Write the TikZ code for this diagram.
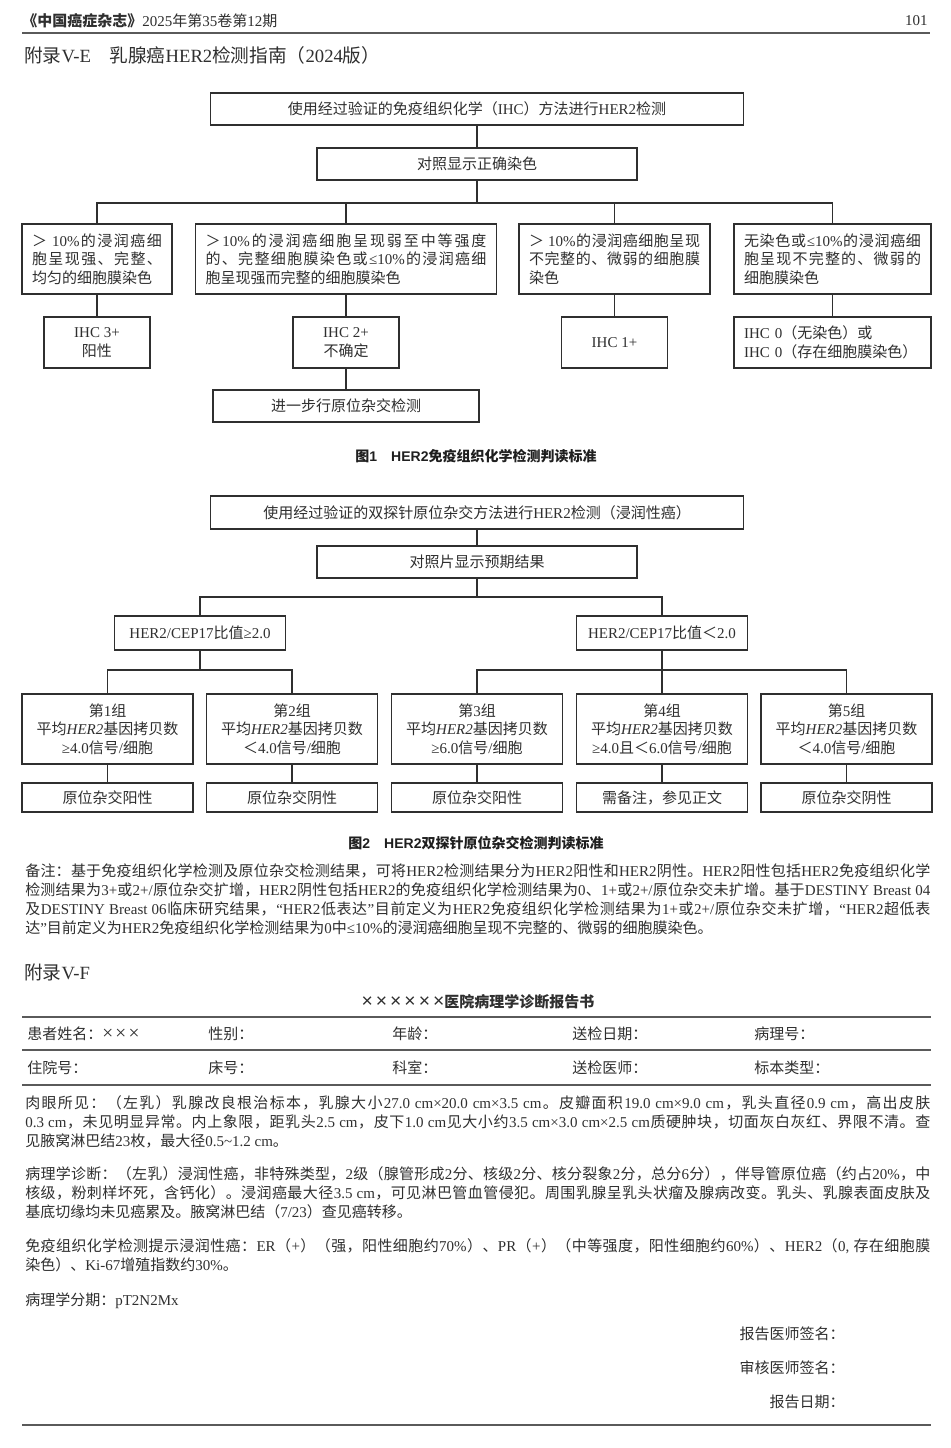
\documentclass[tikz,border=0pt]{standalone}
\usepackage{fontspec}
\setmainfont{Liberation Serif}
\setsansfont{Liberation Sans}
\newfontfamily\cjkfam{Noto Sans CJK SC}
\usetikzlibrary{positioning}
\definecolor{pageink}{HTML}{2F2F2F}
\definecolor{ruleink}{HTML}{5A5A5A}
\newcommand\pxu{0.75pt}
\newcommand\latinfam{\rmfamily}
\newcommand\bodyfont{\fontsize{11.25}{14.25}\selectfont}
\newcommand\boxfont{\fontsize{11.25}{13.9}\selectfont}
\newcommand\capfont{\fontsize{10.5}{12}\selectfont\sffamily\bfseries\def\latinfam{\sffamily}}
\newcommand\bigtimes{{\fontsize{14.5}{14}\selectfont ×}}
\hyphenpenalty=10000 \exhyphenpenalty=10000
% han characters get their own font, and some glue between them
\XeTeXinterchartokenstate=1
\newXeTeXintercharclass\hanclass
\newcount\hancode
\newcommand\hanrange[2]{\hancode=#1\relax
  \loop\XeTeXcharclass\hancode=\hanclass
  \ifnum\hancode<#2\relax\advance\hancode by 1\relax\repeat}
\hanrange{"3000}{"303F}
\hanrange{"4E00}{"9FFF}
\hanrange{"FF00}{"FF5F}
\newcommand\hanglue{\hskip0pt plus .15em minus .04em\relax}
\XeTeXinterchartoks 0 \hanclass = {\cjkfam\hanglue}
\XeTeXinterchartoks 4095 \hanclass = {\cjkfam}
\XeTeXinterchartoks \hanclass 0 = {\latinfam\hanglue}
\XeTeXinterchartoks \hanclass 4095 = {\latinfam}
\XeTeXinterchartoks \hanclass \hanclass = {\hanglue}

\begin{document}
\begin{tikzpicture}[
    x=0.75pt,y=-0.75pt,
    box/.style={draw=pageink,line width=.9pt,inner sep=0pt,text=pageink,font=\boxfont},
    wide/.style={box,minimum width=533*\pxu,minimum height=32*\pxu},
    ctrlbox/.style={box,minimum width=320*\pxu,minimum height=32*\pxu},
    crit/.style={box,minimum height=70*\pxu,align=justify},
    score/.style={box,minimum width=106*\pxu,minimum height=51*\pxu,align=center},
    ratio/.style={box,minimum width=171*\pxu,minimum height=34*\pxu},
    grpbox/.style={box,minimum width=171*\pxu,minimum height=70*\pxu,align=center},
    verdict/.style={box,minimum width=171*\pxu,minimum height=29*\pxu},
    link/.style={draw=pageink,line width=.9pt},
    rule/.style={draw=ruleink,line width=1.7pt},
    txt/.style={inner sep=0pt,text=pageink,font=\bodyfont},
    para/.style={txt,anchor=north west,text width=678.75pt,align=justify},
    figcap/.style={inner sep=0pt,text=black!88,font=\capfont}
  ]
  \fill[white] (0,0) rectangle (950,1448);
  \useasboundingbox (0,0) rectangle (950,1448);

  % running head
  \node[txt,anchor=west] (journal) at (22,21) {{\bfseries 《中国癌症杂志》}2025年第35卷第12期};
  \node[txt,anchor=east] (pageno) at (928,21) {101};
  \draw[rule,line width=1.2pt] (22,33) -- (930,33);
  \node[txt,anchor=west,font=\fontsize{14}{16}\selectfont] (appE) at (24,55) {附录V-E　乳腺癌HER2检测指南（2024版）};

  % figure 1
  \node[wide] (ihc) at (477,109) {使用经过验证的免疫组织化学（IHC）方法进行HER2检测};
  \node[ctrlbox] (ctrl) at (477,164) {对照显示正确染色};
  \node[crit,minimum width=150*\pxu,text width=97.5pt] (strong) at (97,259) {＞ 10\%的浸润癌细\linebreak 胞呈现强、完整、\linebreak 均匀的细胞膜染色};
  \node[crit,minimum width=301*\pxu,text width=210.75pt] (moderate) at (346,259) {＞10\%的浸润癌细胞呈现弱至中等强度\linebreak 的、完整细胞膜染色或≤10\%的浸润癌细\linebreak 胞呈现强而完整的细胞膜染色};
  \node[crit,minimum width=191*\pxu,text width=128.25pt] (weak) at (614.5,259) {＞ 10\%的浸润癌细胞呈现\linebreak 不完整的、微弱的细胞膜\linebreak 染色};
  \node[crit,minimum width=197*\pxu,text width=132.75pt] (faint) at (832.5,259) {无染色或≤10\%的浸润癌细\linebreak 胞呈现不完整的、微弱的\linebreak 细胞膜染色};
  \node[score] (pos3) at (97,342.5) {IHC 3+\\阳性};
  \node[score] (equiv) at (346,342.5) {IHC 2+\\不确定};
  \node[score] (low1) at (614.5,342.5) {IHC 1+};
  \node[box,minimum width=197*\pxu,minimum height=51*\pxu,align=left,text width=132.75pt] (zero) at (832.5,342.5) {IHC 0（无染色）或\\IHC 0（存在细胞膜染色）};
  \node[box,minimum width=266*\pxu,minimum height=32*\pxu] (reflex) at (346,406) {进一步行原位杂交检测};
  \node[figcap] (cap1) at (476,456) {图1　HER2免疫组织化学检测判读标准};

  \coordinate (split1) at (477,203);
  \draw[link] (ihc) -- (ctrl);
  \draw[link] (ctrl) -- (split1);
  \draw[link] (strong.north) |- (split1) -| (faint.north);
  \draw[link] (moderate.north) -- (moderate.north |- split1);
  \draw[link] (weak.north) -- (weak.north |- split1);
  \draw[link] (strong) -- (pos3);
  \draw[link] (moderate) -- (equiv);
  \draw[link] (weak) -- (low1);
  \draw[link] (faint) -- (zero);
  \draw[link] (equiv) -- (reflex);

  % figure 2
  \node[wide,minimum height=33*\pxu] (dual) at (477,512.5) {使用经过验证的双探针原位杂交方法进行HER2检测（浸润性癌）};
  \node[ctrlbox] (ctrl2) at (477,562) {对照片显示预期结果};
  \node[ratio] (high) at (200,633) {HER2/CEP17比值≥2.0};
  \node[ratio] (lowr) at (662,633) {HER2/CEP17比值＜2.0};
  \node[grpbox] (grp1) at (107.5,729) {第1组\\平均\textit{HER2}基因拷贝数\\≥4.0信号/细胞};
  \node[grpbox] (grp2) at (292,729) {第2组\\平均\textit{HER2}基因拷贝数\\＜4.0信号/细胞};
  \node[grpbox] (grp3) at (477,729) {第3组\\平均\textit{HER2}基因拷贝数\\≥6.0信号/细胞};
  \node[grpbox] (grp4) at (662,729) {第4组\\平均\textit{HER2}基因拷贝数\\≥4.0且＜6.0信号/细胞};
  \node[grpbox] (grp5) at (846.5,729) {第5组\\平均\textit{HER2}基因拷贝数\\＜4.0信号/细胞};
  \node[verdict] (res1) at (107.5,797.5) {原位杂交阳性};
  \node[verdict] (res2) at (292,797.5) {原位杂交阴性};
  \node[verdict] (res3) at (477,797.5) {原位杂交阳性};
  \node[verdict] (res4) at (662,797.5) {需备注，参见正文};
  \node[verdict] (res5) at (846.5,797.5) {原位杂交阴性};
  \node[figcap] (cap2) at (476,843) {图2　HER2双探针原位杂交检测判读标准};

  \coordinate (split2) at (477,597);
  \coordinate (split3) at (200,670);
  \coordinate (split4) at (662,670);
  \draw[link] (dual) -- (ctrl2);
  \draw[link] (ctrl2) -- (split2);
  \draw[link] (high.north) |- (split2) -| (lowr.north);
  \draw[link] (high) -- (split3);
  \draw[link] (grp1.north) |- (split3) -| (grp2.north);
  \draw[link] (lowr) -- (grp4);
  \draw[link] (grp3.north) |- (split4) -| (grp5.north);
  \draw[link] (grp1) -- (res1);
  \draw[link] (grp2) -- (res2);
  \draw[link] (grp3) -- (res3);
  \draw[link] (grp4) -- (res4);
  \draw[link] (grp5) -- (res5);

  \node[para] (note) at (25,863.5) {备注：基于免疫组织化学检测及原位杂交检测结果，可将HER2检测结果分为HER2阳性和HER2阴性。HER2阳性包括HER2免疫组织化学\linebreak 检测结果为3+或2+/原位杂交扩增，HER2阴性包括HER2的免疫组织化学检测结果为0、1+或2+/原位杂交未扩增。基于DESTINY Breast 04\linebreak 及DESTINY Breast 06临床研究结果，“HER2低表达”目前定义为HER2免疫组织化学检测结果为1+或2+/原位杂交未扩增，“HER2超低表\linebreak 达”目前定义为HER2免疫组织化学检测结果为0中≤10\%的浸润癌细胞呈现不完整的、微弱的细胞膜染色。};

  % report form
  \node[txt,anchor=west,font=\fontsize{14}{16}\selectfont] (appF) at (24,972) {附录V-F};
  \node[txt,font=\fontsize{11.25}{13}\selectfont\sffamily\bfseries\def\latinfam{\sffamily}] (rtitle) at (478,1002) {{\mdseries\bigtimes\hspace{.2em}\bigtimes\hspace{.2em}\bigtimes\hspace{.2em}\bigtimes\hspace{.2em}\bigtimes\hspace{.2em}\bigtimes}医院病理学诊断报告书};
  \draw[rule] (22,1017) -- (931,1017);
  \node[txt,anchor=west] (name) at (27,1034) {患者姓名：\bigtimes\hspace{.15em}\bigtimes\hspace{.15em}\bigtimes};
  \node[txt,anchor=west] (sex) at (208,1034) {性别：};
  \node[txt,anchor=west] (age) at (392,1034) {年龄：};
  \node[txt,anchor=west] (sent) at (572,1034) {送检日期：};
  \node[txt,anchor=west] (pathno) at (754,1034) {病理号：};
  \draw[rule] (22,1050) -- (931,1050);
  \node[txt,anchor=west] (inpat) at (27,1068) {住院号：};
  \node[txt,anchor=west] (bed) at (208,1068) {床号：};
  \node[txt,anchor=west] (dept) at (392,1068) {科室：};
  \node[txt,anchor=west] (doctor) at (572,1068) {送检医师：};
  \node[txt,anchor=west] (specimen) at (754,1068) {标本类型：};
  \draw[rule] (22,1085) -- (931,1085);

  \node[para] (gross) at (25,1095.5) {肉眼所见：（左乳）乳腺改良根治标本，乳腺大小27.0 cm×20.0 cm×3.5 cm。皮瓣面积19.0 cm×9.0 cm，乳头直径0.9 cm，高出皮肤\linebreak 0.3 cm，未见明显异常。内上象限，距乳头2.5 cm，皮下1.0 cm见大小约3.5 cm×3.0 cm×2.5 cm质硬肿块，切面灰白灰红、界限不清。查\linebreak 见腋窝淋巴结23枚，最大径0.5\textasciitilde1.2 cm。};
  \node[para] (diag) at (25,1166.5) {病理学诊断：（左乳）浸润性癌，非特殊类型，2级（腺管形成2分、核级2分、核分裂象2分，总分6分），伴导管原位癌（约占20\%，中\linebreak 核级，粉刺样坏死，含钙化）。浸润癌最大径3.5 cm，可见淋巴管血管侵犯。周围乳腺呈乳头状瘤及腺病改变。乳头、乳腺表面皮肤及\linebreak 基底切缘均未见癌累及。腋窝淋巴结（7/23）查见癌转移。};
  \node[para] (ihcres) at (25,1238.5) {免疫组织化学检测提示浸润性癌：ER（+）（强，阳性细胞约70\%）、PR（+）（中等强度，阳性细胞约60\%）、HER2（0, 存在细胞膜\linebreak 染色）、Ki-67增殖指数约30\%。};
  \node[txt,anchor=west] (stage) at (25,1301) {病理学分期：pT2N2Mx};

  \node[txt,anchor=east] (sign1) at (845,1334) {报告医师签名：};
  \node[txt,anchor=east] (sign2) at (845,1368) {审核医师签名：};
  \node[txt,anchor=east] (rdate) at (845,1402) {报告日期：};
  \draw[rule] (22,1425) -- (931,1425);
\end{tikzpicture}
\end{document}
